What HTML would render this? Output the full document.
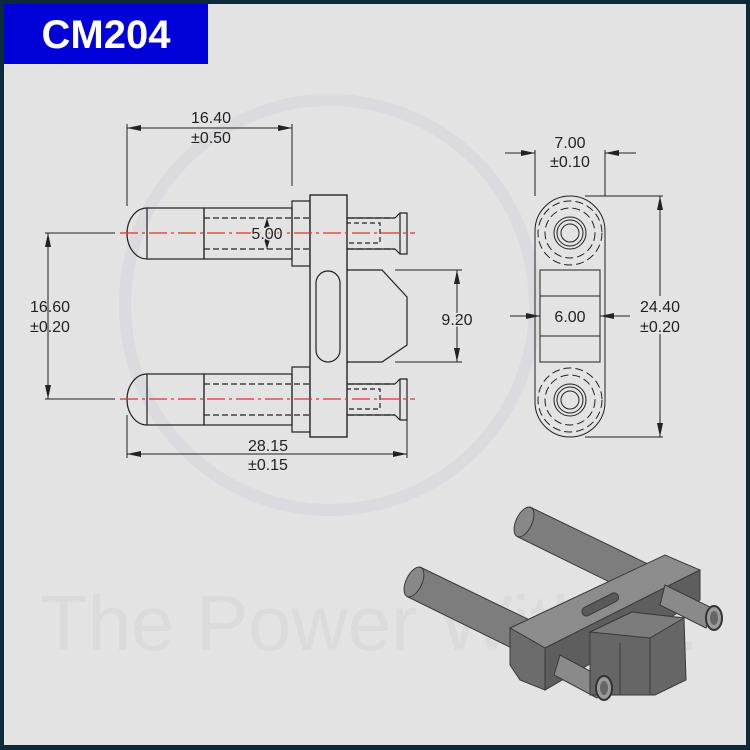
<!DOCTYPE html>
<html><head><meta charset="utf-8"><style>
html,body{margin:0;padding:0;}
body{width:750px;height:750px;background:#0d2a3a;position:relative;overflow:hidden;}
#bg{position:absolute;left:4px;top:4px;width:742px;height:741px;background:#e3e3e3;}
#title{position:absolute;left:4px;top:4px;width:204px;height:60px;background:#0000d8;color:#fff;font:bold 40px "Liberation Sans",sans-serif;text-align:center;line-height:62px;}
svg{position:absolute;left:0;top:0;}
</style></head><body>
<div id="bg"></div>
<svg width="750" height="750" viewBox="0 0 750 750" font-family="Liberation Sans, sans-serif">
<defs>
<linearGradient id="cyl" x1="0" y1="0" x2="0" y2="1">
<stop offset="0" stop-color="#555"/><stop offset="0.35" stop-color="#9a9a9a"/><stop offset="1" stop-color="#555"/>
</linearGradient>
</defs>
<!-- watermark -->
<circle cx="330" cy="305" r="205" fill="none" stroke="#dadadf" stroke-width="12"/>
<text x="40" y="650" font-size="78" fill="#dbdbdb">The Power Within .</text>
<g stroke="#222" stroke-width="1.2" fill="none">
<g id="pin">
<path d="M147 208 A20 25.5 0 0 0 147 259"/>
<rect x="147" y="208" width="57" height="51"/>
<rect x="204" y="208" width="88" height="51"/>
<line x1="204" y1="218" x2="395" y2="218" stroke-dasharray="6,3"/>
<line x1="204" y1="249" x2="395" y2="249" stroke-dasharray="6,3"/>
<rect x="292" y="201" width="18" height="65"/>
<line x1="347" y1="218" x2="395" y2="218"/>
<line x1="347" y1="249" x2="395" y2="249"/>
<path d="M395 218 L400 213 L407 213 L407 254 L400 254 L395 249"/>
<line x1="400" y1="213" x2="400" y2="254"/>
<rect x="330" y="223" width="50" height="20" stroke-dasharray="5,3"/>
<path d="M337 228 L332 233 L337 238"/>
</g>
<use href="#pin" transform="translate(0,166)"/>
<rect x="310" y="195" width="37" height="242" fill="#e3e3e3"/>
<rect x="316" y="271" width="24" height="91" rx="12"/>
<path d="M347 270 L382 270 L407 297 L407 345 L382 362 L347 362"/>
</g>
<rect x="310" y="195" width="37" height="242" fill="none" stroke="#222" stroke-width="1.2"/>
<g stroke="#e03030" stroke-width="1.2" stroke-dasharray="18,4,3,4">
<line x1="120" y1="233" x2="415" y2="233"/><line x1="120" y1="399" x2="415" y2="399"/>
</g>
<g stroke="#222" stroke-width="1" fill="none">
<line x1="127" y1="124" x2="127" y2="206"/><line x1="292" y1="124" x2="292" y2="186"/>
<line x1="127" y1="128" x2="292" y2="128"/>
<line x1="127" y1="415" x2="127" y2="458"/><line x1="407" y1="415" x2="407" y2="458"/>
<line x1="127" y1="454" x2="407" y2="454"/>
<line x1="45" y1="233" x2="115" y2="233"/><line x1="45" y1="399" x2="115" y2="399"/>
<line x1="48" y1="233" x2="48" y2="399"/>
<line x1="395" y1="270" x2="462" y2="270"/><line x1="395" y1="362" x2="462" y2="362"/>
<line x1="457" y1="270" x2="457" y2="362"/>
<line x1="267" y1="218" x2="267" y2="249"/>
<rect x="535" y="196" width="70" height="241" rx="35"/>
<rect x="540" y="270" width="60" height="92"/>
<line x1="540" y1="296" x2="600" y2="296"/><line x1="540" y1="336" x2="600" y2="336"/>
<g id="hole">
<circle cx="570" cy="233" r="32" stroke-dasharray="8,4"/>
<circle cx="570" cy="233" r="25" stroke-dasharray="8,4"/>
<circle cx="570" cy="233" r="16"/><circle cx="570" cy="233" r="13"/><circle cx="570" cy="233" r="9"/>
</g>
<use href="#hole" transform="translate(0,167)"/>
<line x1="535" y1="150" x2="535" y2="196"/><line x1="605" y1="150" x2="605" y2="196"/>
<line x1="505" y1="153" x2="535" y2="153"/><line x1="605" y1="153" x2="636" y2="153"/>
<line x1="510" y1="316" x2="540" y2="316"/><line x1="600" y1="316" x2="630" y2="316"/>
<line x1="585" y1="196" x2="663" y2="196"/><line x1="585" y1="437" x2="663" y2="437"/>
<line x1="660" y1="196" x2="660" y2="296"/><line x1="660" y1="334" x2="660" y2="437"/>
</g>
<g fill="#222">
<path d="M127 128 l14 -3 v6z"/><path d="M292 128 l-14 -3 v6z"/>
<path d="M127 454 l14 -3 v6z"/><path d="M407 454 l-14 -3 v6z"/>
<path d="M48 233 l-3 14 h6z"/><path d="M48 399 l-3 -14 h6z"/>
<path d="M457 270 l-3 14 h6z"/><path d="M457 362 l-3 -14 h6z"/>
<path d="M267 218 l-3 10 h6z"/><path d="M267 249 l-3 -10 h6z"/>
<path d="M535 153 l-14 -3 v6z"/><path d="M605 153 l14 -3 v6z"/>
<path d="M540 316 l-14 -3 v6z"/><path d="M600 316 l14 -3 v6z"/>
<path d="M660 196 l-3 14 h6z"/><path d="M660 437 l-3 -14 h6z"/>
</g>
<g font-size="16" fill="#222" text-anchor="middle">
<text x="211" y="123">16.40</text><text x="211" y="143">±0.50</text>
<text x="267" y="239" style="paint-order:stroke" stroke="#e3e3e3" stroke-width="3">5.00</text>
<text x="50" y="312">16.60</text><text x="50" y="332">±0.20</text>
<text x="268" y="451">28.15</text><text x="268" y="470">±0.15</text>
<text x="457" y="325" style="paint-order:stroke" stroke="#e3e3e3" stroke-width="3">9.20</text>
<text x="570" y="148">7.00</text><text x="570" y="167">±0.10</text>
<text x="570" y="322">6.00</text>
<text x="660" y="312">24.40</text><text x="660" y="332">±0.20</text>
</g>
<!-- 3D render -->
<g stroke="#3a3a3a" stroke-width="1">
<!-- back pin -->
<polygon points="530,507 650,565 636,595 518,537" fill="#7d7d7d"/>
<ellipse cx="524" cy="522" rx="8" ry="16" transform="rotate(25 524 522)" fill="#888"/>
<!-- front pin -->
<polygon points="420,567 540,625 526,655 408,597" fill="#7d7d7d"/>
<ellipse cx="414" cy="582" rx="8" ry="16" transform="rotate(25 414 582)" fill="#888"/>
<!-- plate -->
<polygon points="510,628 665,555 700,570 545,648" fill="#8c8c8c"/>
<polygon points="510,628 545,648 545,690 520,680 510,665" fill="#6c6c6c"/>
<polygon points="545,648 700,570 700,600 545,690" fill="#5e5e5e"/>
<rect x="580" y="600" width="40" height="9" rx="4.5" transform="rotate(-27 600 604)" fill="#5a5a5a"/>
<!-- rear small pins -->
<polygon points="665,585 712,608 706,628 660,605" fill="#8a8a8a"/>
<polygon points="560,655 603,678 597,698 554,675" fill="#8a8a8a"/>
<!-- hex block -->
<polygon points="590,632 632,612 684,618 686,680 655,695 590,695" fill="#666"/>
<polygon points="590,632 632,612 684,618 650,638" fill="#7c7c7c"/>
<line x1="650" y1="638" x2="650" y2="695"/>
<line x1="620" y1="643" x2="620" y2="695"/>
</g>
<ellipse cx="714" cy="618" rx="8" ry="12" fill="#9a9a9a" stroke="#333" stroke-width="2"/>
<ellipse cx="714" cy="618" rx="4" ry="7" fill="#666"/>
<ellipse cx="604" cy="688" rx="8" ry="12" fill="#9a9a9a" stroke="#333" stroke-width="2"/>
<ellipse cx="604" cy="688" rx="4" ry="7" fill="#666"/>
</svg>
<div id="title">CM204</div>
</body></html>
